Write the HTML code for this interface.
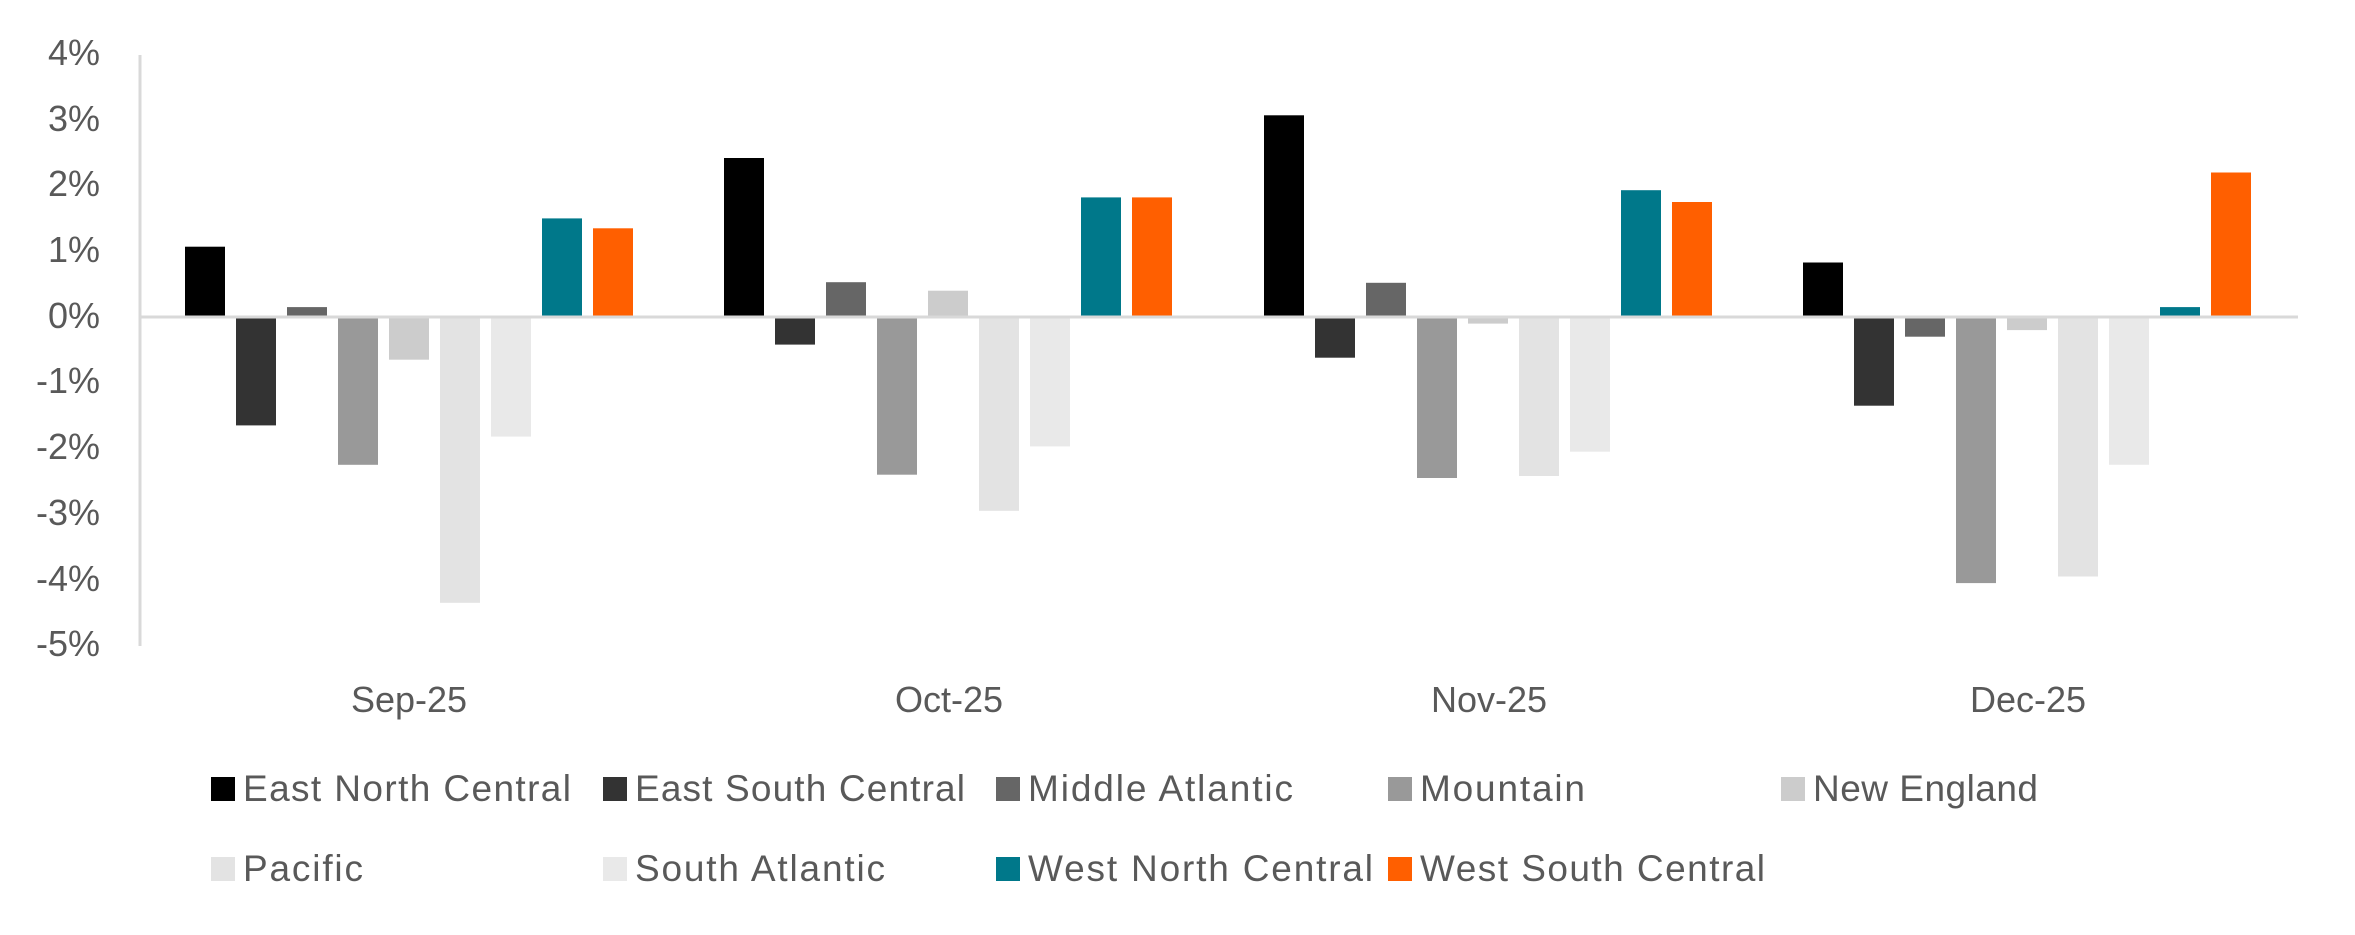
<!DOCTYPE html>
<html><head><meta charset="utf-8"><style>html,body{margin:0;padding:0;background:#fff}svg{display:block}</style></head>
<body>
<svg width="2355" height="935" viewBox="0 0 2355 935" xmlns="http://www.w3.org/2000/svg" font-family="Liberation Sans, sans-serif" fill="#595959">
<line x1="140" y1="55" x2="140" y2="646" stroke="#d9d9d9" stroke-width="3"/>
<g font-size="36" text-anchor="end">
<text x="100" y="65">4%</text>
<text x="100" y="131">3%</text>
<text x="100" y="196">2%</text>
<text x="100" y="262">1%</text>
<text x="100" y="328">0%</text>
<text x="100" y="393">-1%</text>
<text x="100" y="459">-2%</text>
<text x="100" y="525">-3%</text>
<text x="100" y="591">-4%</text>
<text x="100" y="656">-5%</text>
</g>
<g font-size="36" text-anchor="middle">
<text x="409" y="712">Sep-25</text>
<text x="949" y="712">Oct-25</text>
<text x="1489" y="712">Nov-25</text>
<text x="2028" y="712">Dec-25</text>
</g>
<g font-size="37">
<rect x="211" y="777" width="24" height="24" fill="#000"/><text x="243" y="801" textLength="328">East North Central</text>
<rect x="603" y="777" width="24" height="24" fill="#333"/><text x="635" y="801" textLength="330">East South Central</text>
<rect x="996" y="777" width="24" height="24" fill="#666"/><text x="1028" y="801" textLength="265">Middle Atlantic</text>
<rect x="1388" y="777" width="24" height="24" fill="#999"/><text x="1420" y="801" textLength="165">Mountain</text>
<rect x="1781" y="777" width="24" height="24" fill="#ccc"/><text x="1813" y="801" textLength="225">New England</text>
<rect x="211" y="857" width="24" height="24" fill="#e3e3e3"/><text x="243" y="881" textLength="120">Pacific</text>
<rect x="603" y="857" width="24" height="24" fill="#e9e9e9"/><text x="635" y="881" textLength="250">South Atlantic</text>
<rect x="996" y="857" width="24" height="24" fill="#00788a"/><text x="1028" y="881" textLength="345">West North Central</text>
<rect x="1388" y="857" width="24" height="24" fill="#ff5f00"/><text x="1420" y="881" textLength="345">West South Central</text>
</g>
<g>
<rect x="185" y="246.7" width="40" height="70.3" fill="#000"/>
<rect x="236" y="317" width="40" height="108.4" fill="#333"/>
<rect x="287" y="307.1" width="40" height="9.9" fill="#666"/>
<rect x="338" y="317" width="40" height="147.8" fill="#999"/>
<rect x="389" y="317" width="40" height="42.7" fill="#ccc"/>
<rect x="440" y="317" width="40" height="285.8" fill="#e3e3e3"/>
<rect x="491" y="317" width="40" height="119.6" fill="#e9e9e9"/>
<rect x="542" y="218.4" width="40" height="98.6" fill="#00788a"/>
<rect x="593" y="228.3" width="40" height="88.7" fill="#ff5f00"/>

<rect x="724" y="158" width="40" height="159" fill="#000"/>
<rect x="775" y="317" width="40" height="27.6" fill="#333"/>
<rect x="826" y="282.2" width="40" height="34.8" fill="#666"/>
<rect x="877" y="317" width="40" height="157.7" fill="#999"/>
<rect x="928" y="290.7" width="40" height="26.3" fill="#ccc"/>
<rect x="979" y="317" width="40" height="193.8" fill="#e3e3e3"/>
<rect x="1030" y="317" width="40" height="129.4" fill="#e9e9e9"/>
<rect x="1081" y="197.4" width="40" height="119.6" fill="#00788a"/>
<rect x="1132" y="197.4" width="40" height="119.6" fill="#ff5f00"/>

<rect x="1264" y="115.3" width="40" height="201.7" fill="#000"/>
<rect x="1315" y="317" width="40" height="40.7" fill="#333"/>
<rect x="1366" y="282.8" width="40" height="34.2" fill="#666"/>
<rect x="1417" y="317" width="40" height="161" fill="#999"/>
<rect x="1468" y="317" width="40" height="6.6" fill="#ccc"/>
<rect x="1519" y="317" width="40" height="159" fill="#e3e3e3"/>
<rect x="1570" y="317" width="40" height="134.7" fill="#e9e9e9"/>
<rect x="1621" y="190.2" width="40" height="126.8" fill="#00788a"/>
<rect x="1672" y="202" width="40" height="115" fill="#ff5f00"/>

<rect x="1803" y="262.5" width="40" height="54.5" fill="#000"/>
<rect x="1854" y="317" width="40" height="88.7" fill="#333"/>
<rect x="1905" y="317" width="40" height="19.7" fill="#666"/>
<rect x="1956" y="317" width="40" height="266.1" fill="#999"/>
<rect x="2007" y="317" width="40" height="13.1" fill="#ccc"/>
<rect x="2058" y="317" width="40" height="259.5" fill="#e3e3e3"/>
<rect x="2109" y="317" width="40" height="147.8" fill="#e9e9e9"/>
<rect x="2160" y="307.1" width="40" height="9.9" fill="#00788a"/>
<rect x="2211" y="172.5" width="40" height="144.5" fill="#ff5f00"/>
</g>
<line x1="140" y1="317" x2="2298" y2="317" stroke="#d9d9d9" stroke-width="3"/>
</svg>
</body></html>
